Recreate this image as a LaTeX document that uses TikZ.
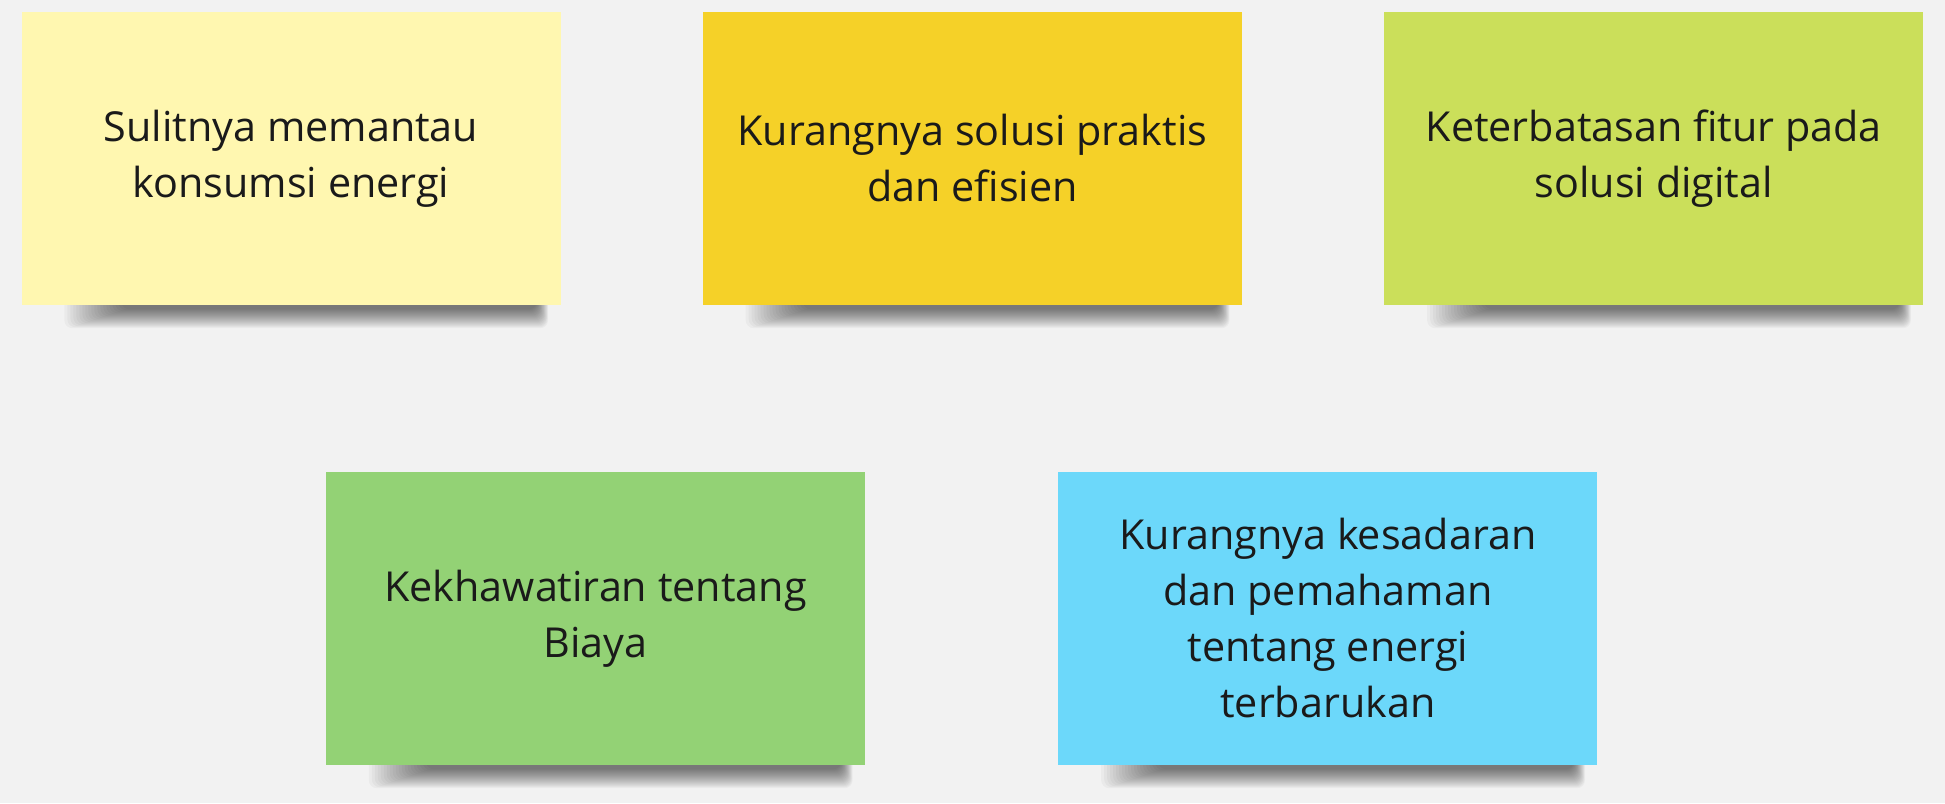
\documentclass[tikz,border=0pt]{standalone}
\usepackage{fontspec}
\setmainfont{Open Sans}
\usetikzlibrary{positioning}
\pgfdeclarelayer{shade}
\pgfsetlayers{shade,main}
\definecolor{bgcol}{HTML}{F2F2F2}
\definecolor{inkcol}{HTML}{1A1A1A}
\definecolor{lyellow}{HTML}{FFF7B0}
\definecolor{dyellow}{HTML}{F5D128}
\definecolor{limecol}{HTML}{CBDF5A}
\definecolor{greencol}{HTML}{93D275}
\definecolor{bluecol}{HTML}{6CD8FA}
\tikzset{
  sticky/.style = {align=center, inner sep=0pt, text centered,
    minimum width=539pt, minimum height=293pt, text=inkcol,
    font=\fontsize{41.3}{56}\selectfont},
  st_ly/.style = {sticky, fill=lyellow},% note jaune clair
  st_y/.style = {sticky, fill=dyellow},% note jaune
  st_l/.style = {sticky, fill=limecol},% note citron vert
  st_g/.style = {sticky, fill=greencol},% note verte
  st_b/.style = {sticky, fill=bluecol},% note bleue
  shadowpart/.style = {black, opacity=0.033, rounded corners=8pt}
}
\begin{document}
\begin{tikzpicture}[x=1pt, y=-1pt]
  \useasboundingbox (0,0) rectangle (1945,803);
  % premiere rangee
  \node (n1) [st_ly] at (291,158.5) {Sulitnya memantau\\konsumsi energi};
  \node (n2) [st_y, right=142pt of n1] {Kurangnya solusi praktis\\dan efisien};
  \node (n3) [st_l, right=142pt of n2] {Keterbatasan fitur pada\\solusi digital};
  % deuxieme rangee
  \node (n4) [st_g] at (595.5,618.5) {Kekhawatiran tentang\\Biaya};
  \node (n5) [st_b, right=193pt of n4] {Kurangnya kesadaran\\dan pemahaman\\tentang energi\\terbarukan};
  % fond et ombres
  \begin{pgfonlayer}{shade}
    \fill[bgcol] (0,0) rectangle (1945,803);
    \foreach \n in {n1,n2,n3,n4,n5}
      \foreach \k in {1,...,20}
        \fill[shadowpart] ([xshift={40+3*\k}, yshift=8]\n.south west)
          rectangle ([xshift={-12-0.6*\k}, yshift={-(24-\k)}]\n.south east);
  \end{pgfonlayer}
\end{tikzpicture}
\end{document}
